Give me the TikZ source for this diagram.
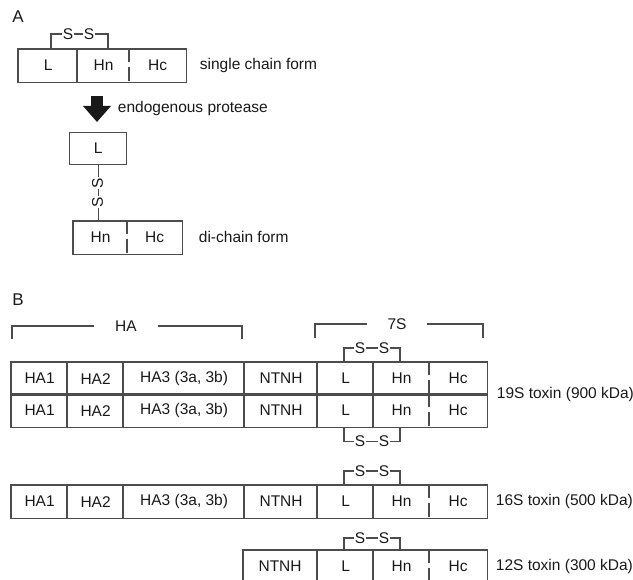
\documentclass[tikz,border=0pt]{standalone}
\usepackage{fontspec}
\setmainfont{Liberation Sans}
\usetikzlibrary{arrows.meta}

\begin{document}
\begin{tikzpicture}[x=1pt,y=-1pt,line width=1.2pt,
  every node/.style={font=\fontsize{15.5}{18}\selectfont,text=black!90},
  cell/.style={minimum height=32pt,inner sep=0pt,anchor=north west},
  rule/.style={draw=black!70},
  gap/.style={rule,dash pattern=on 13.5pt off 5pt},
  ess/.style={fill=white,inner sep=.6pt},
  panel/.style={font=\fontsize{17}{20}\selectfont}]
\useasboundingbox (0,0) rectangle (633,580);
% A: single chain and di-chain
\node[panel] (pa) at (18,17) {A};
\node[cell,minimum width=59pt] (sl) at (18,49) {L};
\node[cell,minimum width=52pt] (shn) at (77,49) {Hn};
\node[cell,minimum width=56pt] (shc) at (129,49) {Hc};
\draw[rule] (sl.north west) rectangle (shc.south east);
\draw[rule] (shn.north west) -- (shn.south west);
\draw[gap] (shc.north west) -- (shc.south west);
\draw[rule] ([xshift=33pt]sl.north west) |- ([xshift=31pt,yshift=15pt]shn.north west) -- ([xshift=31pt]shn.north west);
\node[ess] (ss1) at (68,34) {S};
\node[ess] (ss2) at (89,34) {S};
\node[anchor=west] (sform) at (196,65) {single chain form};
\coordinate (arrtop) at (97,96);
\coordinate (arrtip) at (97,122);
\draw[line width=12pt,black!90,-{Triangle[width=27pt,length=16pt]}] (arrtop) -- (arrtip);
\node[anchor=west] (prot) at (114,108) {endogenous protease};
\node[cell,rule,minimum width=57pt] (dl) at (69,132) {L};
\node[cell,minimum width=54pt] (dhn) at (73,221) {Hn};
\node[cell,minimum width=54pt] (dhc) at (127,221) {Hc};
\draw[rule] (dhn.north west) rectangle (dhc.south east);
\draw[gap] (dhc.north west) -- (dhc.south west);
\draw[rule] (dl.south) -- (dl.south |- dhn.north);
\node[ess,rotate=90] (vs1) at (97.5,183) {S};
\node[ess,rotate=90] (vs2) at (97.5,202) {S};
\node[anchor=west] (dform) at (195,237) {di-chain form};
% B: progenitor toxins
\node[panel] (pb) at (18,300) {B};
\coordinate (hal) at (12,339);
\coordinate (har) at (242,339);
\node[inner xsep=21pt,inner ysep=0pt] (ha) at (126,326) {HA};
\draw[rule] (hal) |- (ha.west);
\draw[rule] (har) |- (ha.east);
\coordinate (s7l) at (315,338);
\coordinate (s7r) at (483,338);
\node[inner xsep=19.5pt,inner ysep=0pt] (s7) at (397,324) {7S};
\draw[rule] (s7l) |- (s7.west);
\draw[rule] (s7r) |- (s7.east);
\foreach \rw/\y in {a/362,b/394,c/485}{
  \foreach \cl/\x/\cw/\tx in {ha1/11/56/HA1,ha2/67/56/HA2,ha3/123/121/{HA3 (3a, 3b)},nt/244/73/NTNH}
    \node[cell,minimum width=\cw pt] (\rw\cl) at (\x,\y) {\tx};
}
\foreach \rw/\y in {a/362,b/394,c/485,d/550}{
  \foreach \cl/\x/\cw/\tx in {l/317/56/L,hn/373/56/Hn,hc/429/57/Hc}
    \node[cell,minimum width=\cw pt] (\rw\cl) at (\x,\y) {\tx};
}
\foreach \rw in {a,b,c}{
  \draw[rule] (\rw ha1.north west) rectangle (\rw hc.south east);
  \foreach \cl in {ha2,ha3,nt}
    \draw[rule] (\rw\cl.north west) -- (\rw\cl.south west);
}
\node[cell,minimum width=73pt] (dnt) at (243,550) {NTNH};
\draw[rule] (dnt.north west) rectangle (dhc.south east);
\foreach \rw in {a,b,c,d}{
  \draw[rule] (\rw l.north west) -- (\rw l.south west);
  \draw[rule] (\rw hn.north west) -- (\rw hn.south west);
  \draw[gap] (\rw hc.north west) -- (\rw hc.south west);
}
% S-S bonds
\foreach \rw/\h in {a/14,c/14,d/12}{
  \draw[rule] ([xshift=27pt]\rw l.north west) |- ([xshift=27pt,yshift=\h pt]\rw hn.north west) -- ([xshift=27pt]\rw hn.north west);
  \node[ess] (\rw s1) at ([xshift=43pt,yshift=\h pt]\rw l.north west) {S};
  \node[ess] (\rw s2) at ([xshift=11pt,yshift=\h pt]\rw hn.north west) {S};
}
\draw[rule] ([xshift=27pt]bl.south west) |- ([xshift=27pt,yshift=-14pt]bhn.south west) -- ([xshift=27pt]bhn.south west);
\node[ess] (bs1) at ([xshift=43pt,yshift=-14pt]bl.south west) {S};
\node[ess] (bs2) at ([xshift=11pt,yshift=-14pt]bhn.south west) {S};
\node[anchor=west] (t19) at (493,394) {19S toxin (900 kDa)};
\node[anchor=west] (t16) at (492,501) {16S toxin (500 kDa)};
\node[anchor=west] (t12) at (492,566) {12S toxin (300 kDa)};
\end{tikzpicture}
\end{document}
